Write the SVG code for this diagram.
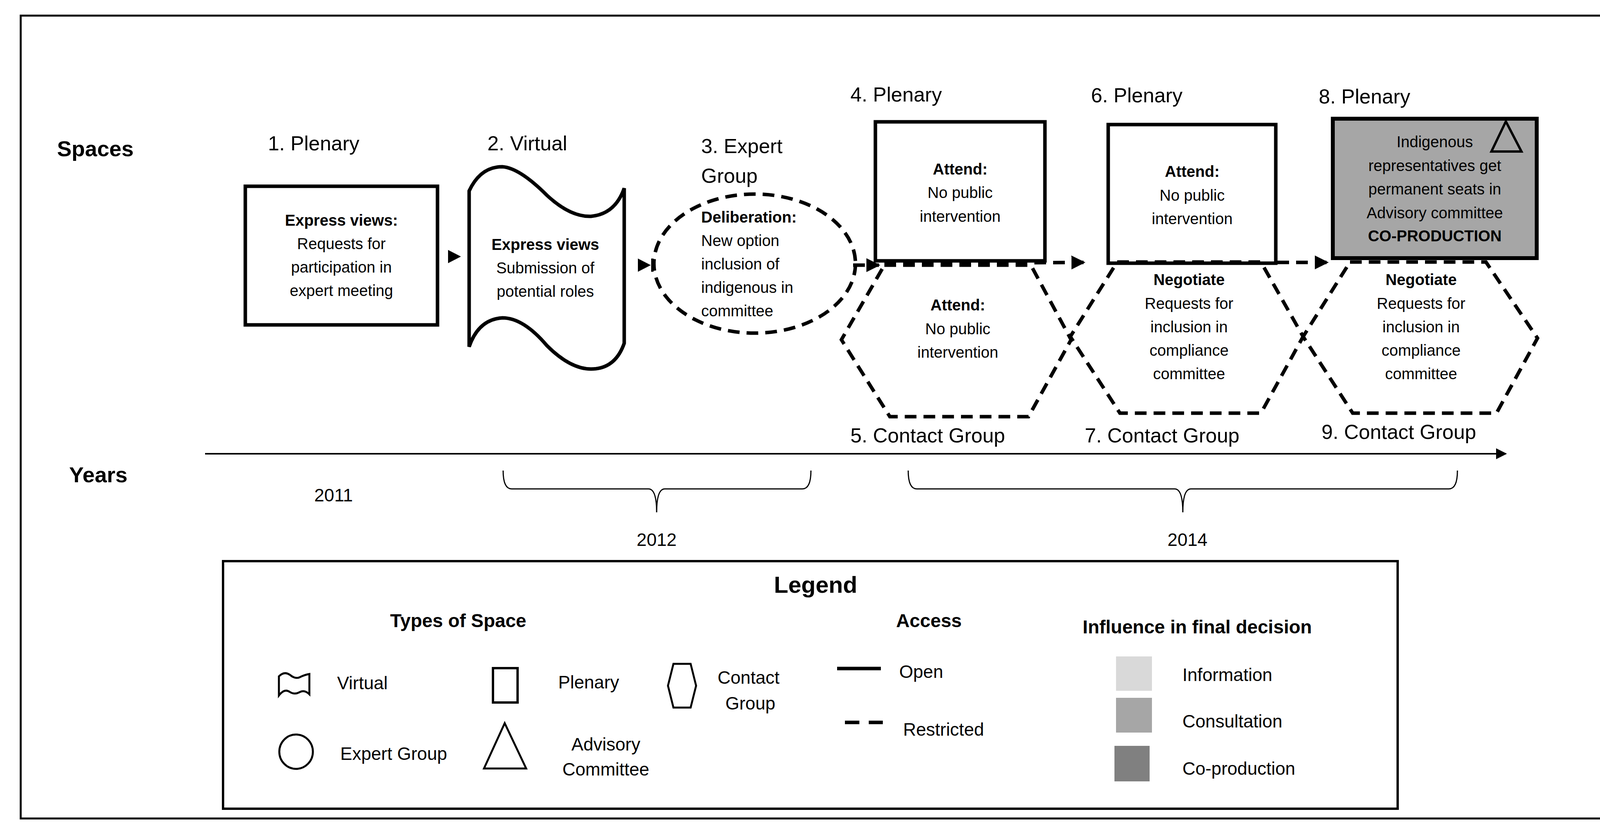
<svg xmlns="http://www.w3.org/2000/svg" width="4152" height="2146" viewBox="0 0 4152 2146">
<style>
text{font-family:"Liberation Sans",Arial,sans-serif;fill:#000}
.t{font-size:40px;text-anchor:middle}
.tl{font-size:40px}
.b{font-weight:bold}
.lab{font-size:52px}
.hd{font-size:56px;font-weight:bold}
.solid{fill:none;stroke:#000;stroke-width:9}
.dash{fill:none;stroke:#000;stroke-width:9;stroke-dasharray:30 18}
.leg{font-size:46px}
</style>
<defs>
<marker id="ah" viewBox="0 0 10 10" refX="9" refY="5" markerWidth="4" markerHeight="4" orient="auto" markerUnits="strokeWidth"><path d="M0,0L10,5L0,10z" fill="#000"/></marker>
<marker id="ah2" viewBox="0 0 10 10" refX="9" refY="5" markerWidth="7" markerHeight="7" orient="auto" markerUnits="strokeWidth"><path d="M0,0L10,5L0,10z" fill="#000"/></marker>
</defs>
<rect x="53" y="40" width="4050" height="2056" fill="#fff" stroke="#000" stroke-width="5"/>
<text x="146" y="400" class="hd">Spaces</text>
<text x="177" y="1235" class="hd">Years</text>

<g id="connectors">
<line x1="525" y1="1162" x2="3855" y2="1162" stroke="#000" stroke-width="4" marker-end="url(#ah2)"/>
<path d="M1147,640 L1180,657 L1147,674 Z" fill="#000"/>
<path d="M1633,662 L1666,679 L1633,696 Z" fill="#000"/>
<line x1="1670" y1="662" x2="1670" y2="696" stroke="#000" stroke-width="6"/>
<line x1="2184" y1="679" x2="2250" y2="679" class="dash" marker-end="url(#ah)"/>
<line x1="2264" y1="675" x2="2775" y2="672" class="dash" marker-end="url(#ah)"/>
<line x1="3270" y1="672" x2="3398" y2="672" class="dash" marker-end="url(#ah)"/>
<path d="M1288,1205 Q1288,1252 1310,1252 L1660,1252 Q1681,1252 1681,1312 Q1681,1252 1702,1252 L2054,1252 Q2076,1252 2076,1205" fill="none" stroke="#000" stroke-width="3"/>
<path d="M2325,1205 Q2325,1252 2347,1252 L3007,1252 Q3028,1252 3028,1312 Q3028,1252 3049,1252 L3709,1252 Q3731,1252 3731,1205" fill="none" stroke="#000" stroke-width="3"/>
</g>

<g id="n1">
<text x="803" y="385" class="lab" text-anchor="middle">1. Plenary</text>
<rect x="628" y="477" width="492" height="355" class="solid"/>
<text x="874" y="578" class="t b">Express views:</text>
<text x="874" y="638" class="t">Requests for</text>
<text x="874" y="698" class="t">participation in</text>
<text x="874" y="758" class="t">expert meeting</text>
</g>

<g id="n2">
<text x="1350" y="385" class="lab" text-anchor="middle">2. Virtual</text>
<path d="M1201,489 Q1230,427 1286,427 Q1330,430 1400,500 Q1460,556 1513,554 Q1575,548 1598,482 L1598,879 Q1575,945 1513,945 Q1460,945 1400,885 Q1340,814 1286,814 Q1225,818 1201,888 Z" class="solid"/>
<text x="1396" y="640" class="t b">Express views</text>
<text x="1396" y="700" class="t">Submission of</text>
<text x="1396" y="760" class="t">potential roles</text>
</g>

<g id="n3">
<text x="1795" y="392" class="lab">3. Expert</text>
<text x="1795" y="468" class="lab">Group</text>
<ellipse cx="1932" cy="675" rx="258" ry="178" class="dash"/>
<text x="1795" y="570" class="tl b">Deliberation:</text>
<text x="1795" y="630" class="tl">New option</text>
<text x="1795" y="690" class="tl">inclusion of</text>
<text x="1795" y="750" class="tl">indigenous in</text>
<text x="1795" y="810" class="tl">committee</text>
</g>

<g id="n5">
<polygon points="2264,679 2639,679 2742,870 2633,1067 2278,1067 2154,870" class="dash"/>
<text x="2452" y="795" class="t b">Attend:</text>
<text x="2452" y="856" class="t">No public</text>
<text x="2452" y="916" class="t">intervention</text>
<text x="2177" y="1133" class="lab">5. Contact Group</text>
</g>

<g id="n4">
<text x="2177" y="260" class="lab">4. Plenary</text>
<rect x="2241" y="312" width="434" height="356" fill="none" stroke="#000" stroke-width="9"/>
<text x="2458" y="447" class="t b">Attend:</text>
<text x="2458" y="507" class="t">No public</text>
<text x="2458" y="568" class="t">intervention</text>
</g>

<g id="n7">
<polygon points="2860,671 3228,671 3336,862 3228,1058 2867,1058 2740,862" class="dash"/>
<text x="3044" y="730" class="t b">Negotiate</text>
<text x="3044" y="791" class="t">Requests for</text>
<text x="3044" y="851" class="t">inclusion in</text>
<text x="3044" y="911" class="t">compliance</text>
<text x="3044" y="971" class="t">committee</text>
<text x="2777" y="1133" class="lab">7. Contact Group</text>
</g>

<g id="n6">
<text x="2793" y="262" class="lab">6. Plenary</text>
<rect x="2837" y="319" width="429" height="355" fill="none" stroke="#000" stroke-width="9"/>
<text x="3052" y="453" class="t b">Attend:</text>
<text x="3052" y="514" class="t">No public</text>
<text x="3052" y="574" class="t">intervention</text>
</g>

<g id="n9">
<polygon points="3456,671 3804,671 3936,866 3831,1058 3463,1058 3336,862" class="dash"/>
<text x="3638" y="730" class="t b">Negotiate</text>
<text x="3638" y="791" class="t">Requests for</text>
<text x="3638" y="851" class="t">inclusion in</text>
<text x="3638" y="911" class="t">compliance</text>
<text x="3638" y="971" class="t">committee</text>
<text x="3383" y="1124" class="lab">9. Contact Group</text>
</g>

<g id="n8">
<text x="3376" y="265" class="lab">8. Plenary</text>
<rect x="3412" y="304" width="522" height="357" fill="#a6a6a6" stroke="#000" stroke-width="10"/>
<polygon points="3855,311 3818,388 3895,388" fill="none" stroke="#000" stroke-width="6"/>
<text x="3673" y="377" class="t">Indigenous</text>
<text x="3673" y="438" class="t">representatives get</text>
<text x="3673" y="498" class="t">permanent seats in</text>
<text x="3673" y="559" class="t">Advisory committee</text>
<text x="3673" y="618" class="t b">CO-PRODUCTION</text>
</g>

<g id="years">
<text x="854" y="1284" class="lab" text-anchor="middle" style="font-size:46px">2011</text>
<text x="1681" y="1398" class="lab" text-anchor="middle" style="font-size:46px">2012</text>
<text x="3040" y="1398" class="lab" text-anchor="middle" style="font-size:46px">2014</text>
</g>

<g id="legend">
<rect x="571" y="1437" width="3007" height="634" fill="none" stroke="#000" stroke-width="6"/>
<text x="2088" y="1518" text-anchor="middle" style="font-size:60px;font-weight:bold">Legend</text>
<text x="1173" y="1606" text-anchor="middle" class="b" style="font-size:48px">Types of Space</text>
<text x="2378" y="1606" text-anchor="middle" class="b" style="font-size:48px">Access</text>
<text x="3065" y="1622" text-anchor="middle" class="b" style="font-size:48px">Influence in final decision</text>
<path d="M714,1732 Q728,1718 742,1728 Q756,1740 768,1734 Q780,1728 792,1726 L792,1778 Q780,1766 768,1772 Q754,1780 742,1772 Q728,1762 714,1781 Z" fill="none" stroke="#000" stroke-width="5"/>
<text x="863" y="1765" class="leg">Virtual</text>
<rect x="1262" y="1711" width="63" height="88" fill="none" stroke="#000" stroke-width="6"/>
<text x="1429" y="1763" class="leg">Plenary</text>
<polygon points="1724,1700 1768,1700 1782,1756 1768,1812 1724,1812 1710,1756" fill="none" stroke="#000" stroke-width="5"/>
<text x="1837" y="1751" class="leg">Contact</text>
<text x="1857" y="1817" class="leg">Group</text>
<line x1="2143" y1="1712" x2="2255" y2="1712" stroke="#000" stroke-width="9"/>
<text x="2302" y="1736" class="leg">Open</text>
<line x1="2163" y1="1850" x2="2260" y2="1850" class="dash" style="stroke-dasharray:37 24"/>
<text x="2312" y="1884" class="leg">Restricted</text>
<ellipse cx="758" cy="1925" rx="43" ry="44" fill="none" stroke="#000" stroke-width="5"/>
<text x="871" y="1946" class="leg">Expert Group</text>
<polygon points="1292,1852 1239,1968 1347,1968" fill="none" stroke="#000" stroke-width="5"/>
<text x="1551" y="1922" class="leg" text-anchor="middle">Advisory</text>
<text x="1551" y="1986" class="leg" text-anchor="middle">Committee</text>
<rect x="2857" y="1681" width="92" height="88" fill="#d9d9d9"/>
<text x="3027" y="1744" class="leg">Information</text>
<rect x="2857" y="1787" width="92" height="89" fill="#a6a6a6"/>
<text x="3027" y="1863" class="leg">Consultation</text>
<rect x="2853" y="1910" width="90" height="91" fill="#808080"/>
<text x="3027" y="1984" class="leg">Co-production</text>
</g>
</svg>
